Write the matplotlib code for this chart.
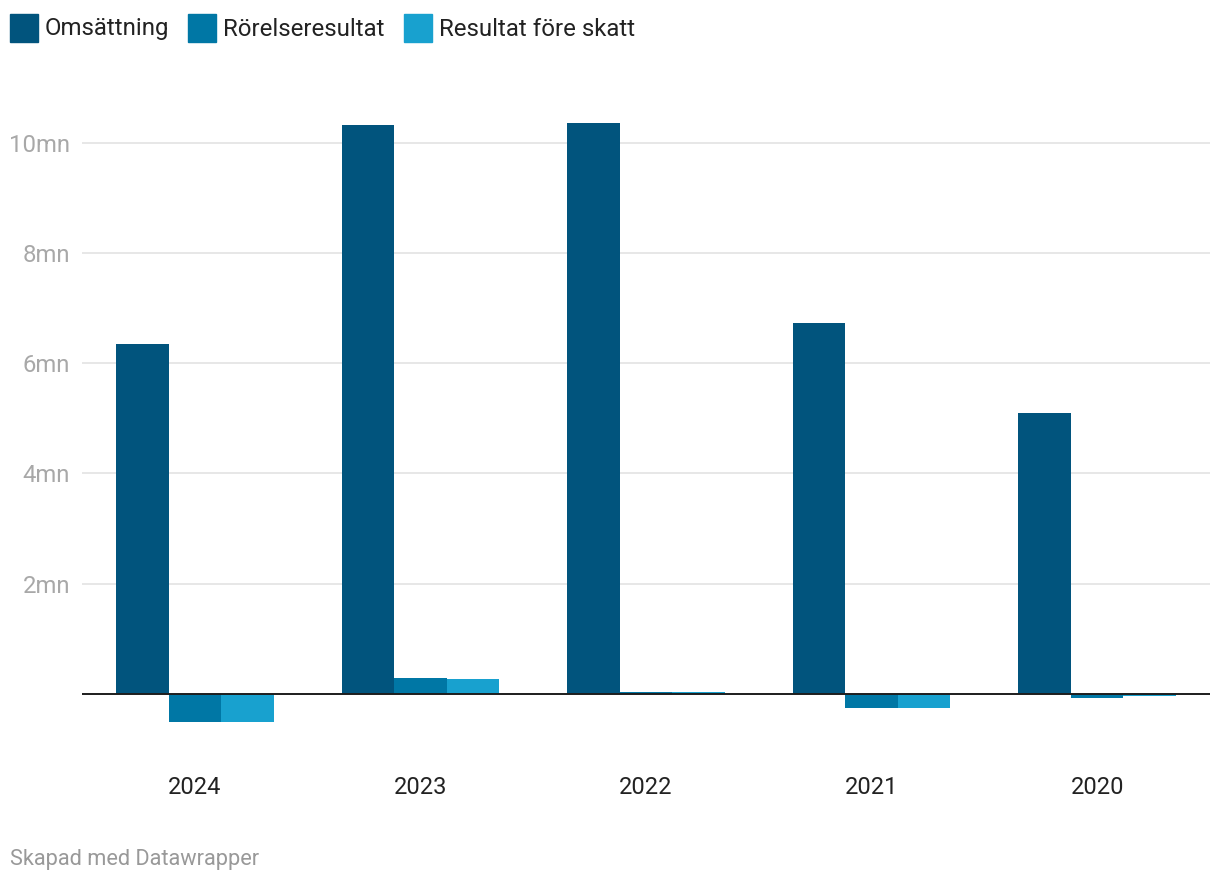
import matplotlib
matplotlib.use("Agg")
import matplotlib.pyplot as plt
import numpy as np
from matplotlib.patches import Rectangle

plt.rcParams['font.family'] = ['Roboto', 'DejaVu Sans']

years = ["2024", "2023", "2022", "2021", "2020"]
omsattning = [6.35, 10.31, 10.36, 6.73, 5.10]
rorelseresultat = [-0.52, 0.29, 0.04, -0.255, -0.07]
resultat_fore_skatt = [-0.52, 0.27, 0.04, -0.255, -0.05]
series_names = ["Omsättning", "Rörelseresultat", "Resultat före skatt"]
colors = ["#01547d", "#0077a5", "#18a1cf"]
yticks = [2, 4, 6, 8, 10]
ytick_labels = ["2mn", "4mn", "6mn", "8mn", "10mn"]

W, H = 1220, 882
fig = plt.figure(figsize=(W / 100, H / 100), dpi=100)
ax = fig.add_axes([82 / W, 1 - 745 / H, (1210 - 82) / W, (745 - 115) / H])

x = np.arange(len(years))
bw = 0.233
for i, (vals, c) in enumerate(zip([omsattning, rorelseresultat, resultat_fore_skatt], colors)):
    ax.bar(x + (i - 1) * bw, vals, width=bw, color=c, zorder=3, linewidth=0)

ax.set_xlim(-0.5, len(years) - 0.5)
ax.set_ylim(-0.93, 10.5)
ax.set_yticks(yticks)
ax.set_yticklabels(ytick_labels)
ax.set_xticks(x)
ax.set_xticklabels(years)
for yv in yticks:
    ax.axhline(yv, color="#e3e3e3", linewidth=1.2, zorder=1)
ax.axhline(0, color="#1d1d1d", linewidth=1.4, zorder=4)

for s in ax.spines.values():
    s.set_visible(False)
ax.tick_params(axis="y", length=0, pad=8.5, labelsize=17.2, labelcolor="#a8a8a8")
ax.tick_params(axis="x", length=0, pad=22.5, labelsize=17, labelcolor="#222222")

# legend
lx = 10
for name, c in zip(series_names, colors):
    fig.patches.append(Rectangle((lx / W, 1 - 42 / H), 28 / W, 28 / H,
                                 transform=fig.transFigure, color=c, figure=fig))
    t = fig.text((lx + 35) / W, 1 - 29 / H, name, fontsize=17.3, color="#222222",
                 va="center", ha="left")
    fig.canvas.draw()
    bb = t.get_window_extent()
    lx = bb.x1 + 19

fig.text(10 / W, 1 - 860 / H, "Skapad med Datawrapper", fontsize=15.7, color="#999999",
         va="center", ha="left")

fig.savefig("out.png", dpi=100)
